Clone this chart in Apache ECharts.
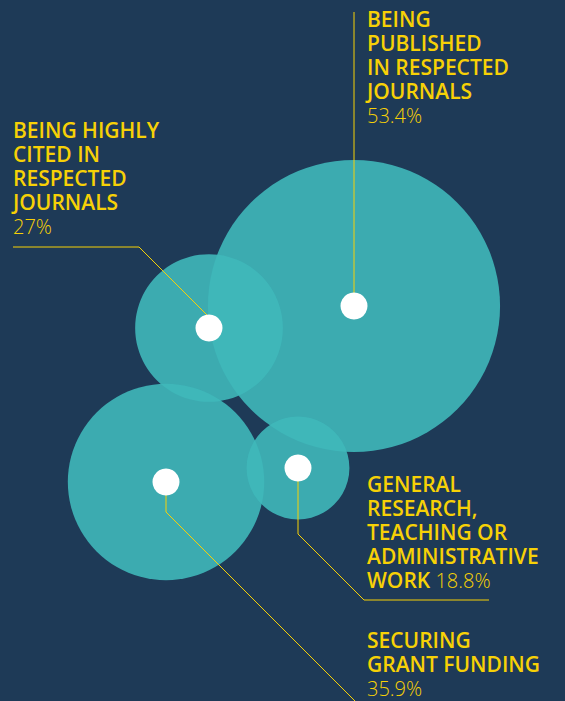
<!DOCTYPE html>
<html>
<head>
<meta charset="utf-8">
<style>
html,body{margin:0;padding:0;background:#1e3a57;}
#chart{width:565px;height:701px;}
</style>
<script src="https://cdn.jsdelivr.net/npm/echarts@6/dist/echarts.min.js"></script>
</head>
<body>
<div id="chart"></div>
<script>
// ---- data ----
const categories = [
  'BEING PUBLISHED IN RESPECTED JOURNALS',
  'BEING HIGHLY CITED IN RESPECTED JOURNALS',
  'SECURING GRANT FUNDING',
  'GENERAL RESEARCH, TEACHING OR ADMINISTRATIVE WORK'
];
const values = [53.4, 27, 35.9, 18.8];
const labelLines = [
  ['BEING', 'PUBLISHED', 'IN RESPECTED', 'JOURNALS'],
  ['BEING HIGHLY', 'CITED IN', 'RESPECTED', 'JOURNALS'],
  ['SECURING', 'GRANT FUNDING'],
  ['GENERAL', 'RESEARCH,', 'TEACHING OR', 'ADMINISTRATIVE', 'WORK']
];

// ---- layout (pixel-space positions of the packed bubbles and callouts) ----
const centers = [[354, 306], [209, 328], [166, 482], [298, 468]];
const labelAnchors = [[367, 7], [13, 118], [367, 628], [367, 472]];
const percentInline = [false, false, false, true];
const leaders = [
  [[354, 12], [354, 306]],
  [[13, 247], [139, 247], [209, 317]],
  [[166, 482], [166, 512], [356, 702]],
  [[298, 468], [298, 534], [364, 600], [489, 600]]
];
const diameterPerUnit = 5.47;

const YELLOW = '#f7d106';
const TEAL = 'rgb(63,184,186)';

const bubbleData = values.map((v, i) => ({ name: categories[i], value: [centers[i][0], centers[i][1], v] }));
const dotData = values.map((v, i) => ({ name: categories[i], value: [centers[i][0], centers[i][1], v] }));
const labelData = values.map((v, i) => ({ name: categories[i], value: [labelAnchors[i][0], labelAnchors[i][1], v] }));

function fmtLabel(i) {
  const lines = labelLines[i].map(s => '{b|' + s + '}');
  const pct = '{p|' + values[i] + '%}';
  if (percentInline[i]) {
    lines[lines.length - 1] += '{p| }' + pct;
  } else {
    lines.push(pct);
  }
  return lines.join('\n');
}

const chart = echarts.init(document.getElementById('chart'), null, { renderer: 'svg' });
chart.setOption({
  backgroundColor: '#1e3a57',
  animation: false,
  grid: { left: 0, right: 0, top: 0, bottom: 0 },
  xAxis: { type: 'value', min: 0, max: 565, show: false },
  yAxis: { type: 'value', min: 0, max: 701, inverse: true, show: false },
  series: [
    {
      type: 'scatter',
      silent: true,
      z: 1,
      data: bubbleData,
      symbolSize: val => val[2] * diameterPerUnit,
      itemStyle: { color: TEAL, opacity: 0.9 }
    },
    {
      type: 'lines',
      coordinateSystem: 'cartesian2d',
      polyline: true,
      silent: true,
      z: 2,
      data: leaders.map((c, i) => ({ name: categories[i], coords: c })),
      lineStyle: { color: YELLOW, width: 1, opacity: 1 }
    },
    {
      type: 'scatter',
      silent: true,
      z: 3,
      data: dotData,
      symbolSize: 27,
      itemStyle: { color: '#ffffff', opacity: 1 }
    },
    {
      type: 'scatter',
      silent: true,
      z: 4,
      data: labelData,
      symbolSize: 0,
      itemStyle: { opacity: 1 },
      label: {
        show: true,
        position: [0, 0],
        align: 'left',
        verticalAlign: 'top',
        color: YELLOW,
        opacity: 1,
        formatter: p => fmtLabel(p.dataIndex),
        rich: {
          b: { fontFamily: 'Open Sans', fontWeight: 600, fontSize: 21, lineHeight: 24, color: YELLOW },
          p: { fontFamily: 'Open Sans', fontWeight: 300, fontSize: 20, lineHeight: 24, color: YELLOW }
        }
      }
    }
  ]
});
</script>
</body>
</html>
